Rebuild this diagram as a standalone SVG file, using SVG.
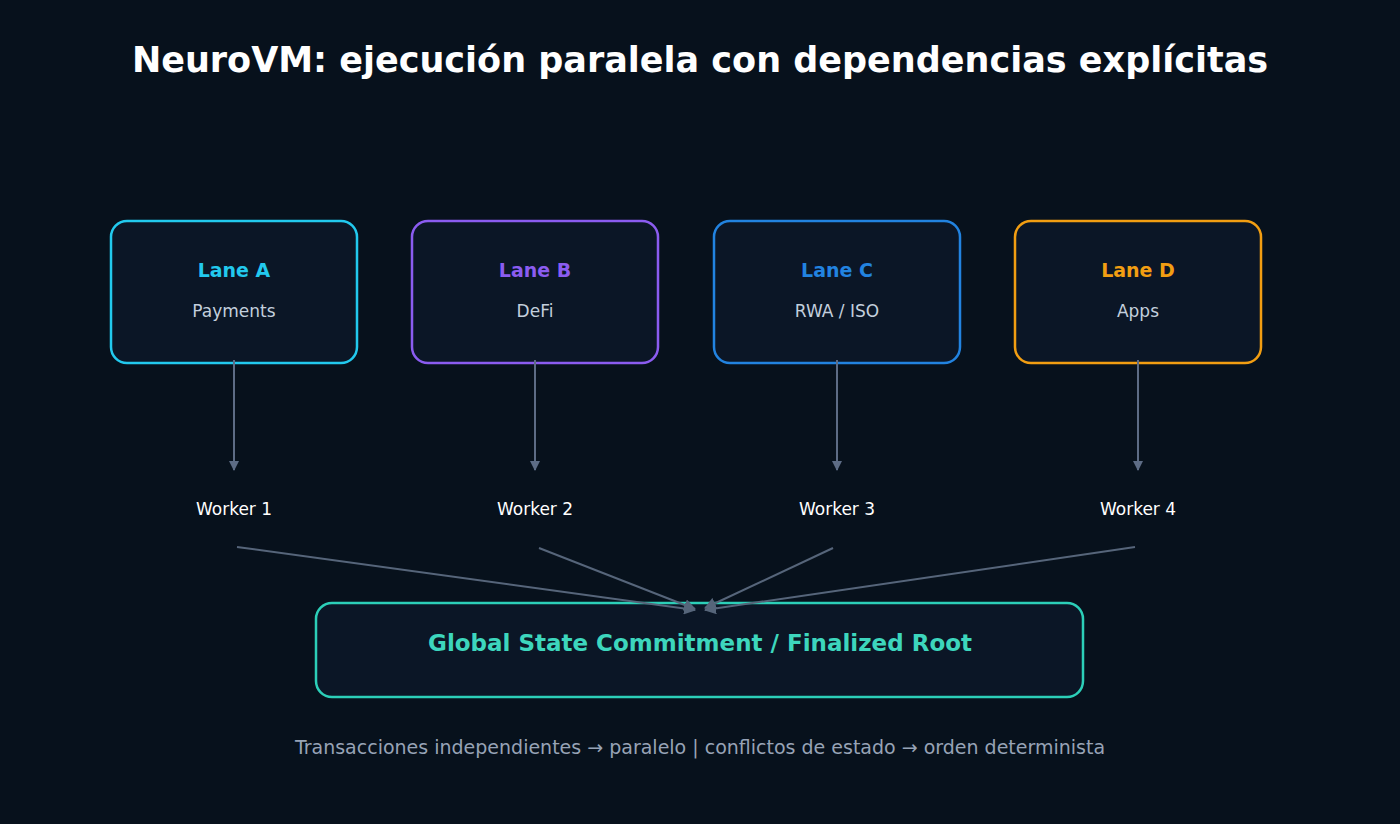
<svg xmlns="http://www.w3.org/2000/svg" width="1400" height="824" viewBox="0 0 1400 824">
<defs>
<style>
text{font-family:"DejaVu Sans","Noto Sans",sans-serif;text-anchor:middle}
.lane{fill:#0b1626;stroke-width:2.5}
.t{font-weight:bold;font-size:19px}
.s{fill:#c3cfdd;font-size:17px}
.w{fill:#ffffff;font-size:17px}
.c{stroke:#5d6c85;stroke-width:2;fill:none}
.d{stroke:#56657a;stroke-width:2;fill:none}
</style>
<marker id="ah" markerWidth="10" markerHeight="10" refX="9" refY="5" orient="auto" markerUnits="userSpaceOnUse" viewBox="0 0 10 10"><path d="M0,0L10,5L0,10z" fill="#5d6c85"/></marker>
<marker id="ah2" markerWidth="12" markerHeight="12" refX="11" refY="6" orient="auto" markerUnits="userSpaceOnUse" viewBox="0 0 12 12"><path d="M0,0L12,6L0,12z" fill="#56657a"/></marker>
</defs>
<rect width="1400" height="824" fill="#07111c"/>
<text x="700" y="72" fill="#ffffff" font-size="35" font-weight="bold">NeuroVM: ejecución paralela con dependencias explícitas</text>
<g id="laneA"><rect class="lane" x="111" y="221" width="246" height="142" rx="16" stroke="#22c9ee"/><text class="t" x="234" y="277" fill="#22c9ee">Lane A</text><text class="s" x="234" y="317">Payments</text></g>
<g id="laneB"><rect class="lane" x="412" y="221" width="246" height="142" rx="16" stroke="#8b5cf0"/><text class="t" x="535" y="277" fill="#8b5cf0">Lane B</text><text class="s" x="535" y="317">DeFi</text></g>
<g id="laneC"><rect class="lane" x="714" y="221" width="246" height="142" rx="16" stroke="#2283e0"/><text class="t" x="837" y="277" fill="#2283e0">Lane C</text><text class="s" x="837" y="317">RWA / ISO</text></g>
<g id="laneD"><rect class="lane" x="1015" y="221" width="246" height="142" rx="16" stroke="#f29e12"/><text class="t" x="1138" y="277" fill="#f29e12">Lane D</text><text class="s" x="1138" y="317">Apps</text></g>
<g id="w1"><text class="w" x="234" y="515">Worker 1</text></g>
<g id="w2"><text class="w" x="535" y="515">Worker 2</text></g>
<g id="w3"><text class="w" x="837" y="515">Worker 3</text></g>
<g id="w4"><text class="w" x="1138" y="515">Worker 4</text></g>
<g id="global"><rect class="lane" x="316" y="603" width="767" height="94" rx="16" stroke="#2ccfb8"/><text x="700" y="651" fill="#3dd6bd" font-size="23" font-weight="bold">Global State Commitment / Finalized Root</text></g>
<g id="connectors">
<line class="c" x1="234" y1="360" x2="234" y2="470" marker-end="url(#ah)"/>
<line class="c" x1="535" y1="360" x2="535" y2="470" marker-end="url(#ah)"/>
<line class="c" x1="837" y1="360" x2="837" y2="470" marker-end="url(#ah)"/>
<line class="c" x1="1138" y1="360" x2="1138" y2="470" marker-end="url(#ah)"/>
<line class="d" x1="237" y1="547" x2="695" y2="610" marker-end="url(#ah2)"/>
<line class="d" x1="539" y1="548" x2="695" y2="609" marker-end="url(#ah2)"/>
<line class="d" x1="833" y1="548" x2="705" y2="608" marker-end="url(#ah2)"/>
<line class="d" x1="1135" y1="547" x2="705" y2="610" marker-end="url(#ah2)"/>
</g>
<text x="700" y="754" fill="#97a3b6" font-size="19">Transacciones independientes → paralelo | conflictos de estado → orden determinista</text>
</svg>
